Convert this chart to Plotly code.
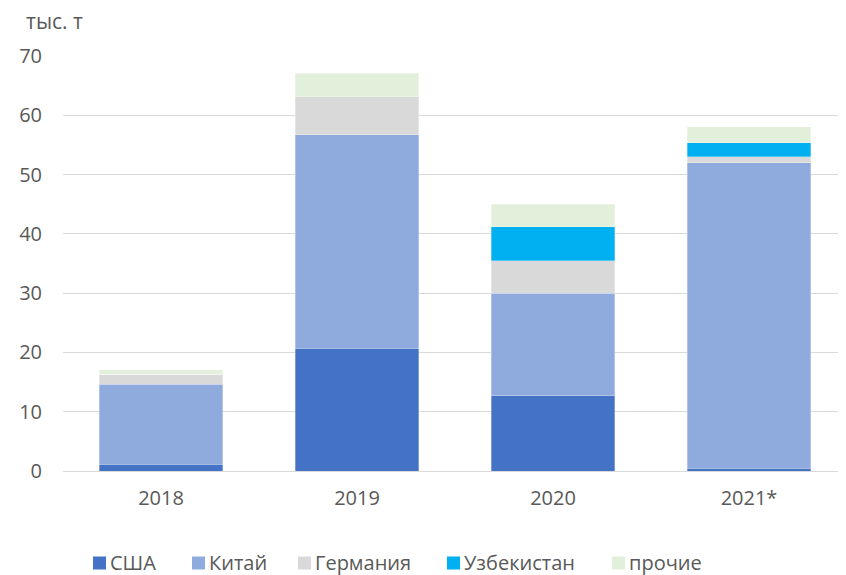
import plotly.graph_objects as go

# Категории и значения (тыс. т), сегменты стека
years = ["2018", "2019", "2020", "2021*"]
usa = [1.1, 20.7, 12.7, 0.5]
china = [13.5, 36.0, 17.3, 51.5]
germany = [1.75, 6.4, 5.5, 1.0]
uzbekistan = [0.0, 0.0, 5.7, 2.4]
other = [0.75, 4.0, 3.8, 2.7]

names = ["США", "Китай", "Германия", "Узбекистан", "прочие"]
colors = ["#4472C4", "#8FAADC", "#D9D9D9", "#00B0F0", "#E2EFDA"]
values = [usa, china, germany, uzbekistan, other]

FONT = "Open Sans"
GREY = "#595959"
W, H = 846, 575
OFF = 8  # default body margin of the html page
ML, MR, MT, MB = 63 - OFF, 7, 56 - OFF, 112
PW, PH = W - ML - MR, H - MT - MB


def px_x(px):
    return (px - OFF - ML) / PW


def px_y(py):
    return (H - MB - (py - OFF)) / PH


fig = go.Figure()
for name, vals, color in zip(names, values, colors):
    fig.add_trace(go.Bar(
        x=years, y=vals, name=name,
        marker=dict(color=color, line=dict(color="rgba(255,255,255,0.6)", width=0.5)),
    ))

# legend drawn by hand so the swatch/text spacing matches the original
legend_sq = [93, 192, 298, 447, 612]
shapes, annotations = [], []
for name, color, sx in zip(names, colors, legend_sq):
    shapes.append(dict(
        type="rect", xref="paper", yref="paper",
        x0=px_x(sx), x1=px_x(sx + 13), y0=px_y(569.5), y1=px_y(556.5),
        fillcolor=color, line=dict(width=0),
    ))
    annotations.append(dict(
        text=name, xref="paper", yref="paper", x=px_x(sx + 15), y=px_y(562),
        xanchor="left", yanchor="middle", showarrow=False,
        font=dict(size=20, color=GREY),
    ))

annotations.append(dict(
    text="тыс. т", xref="paper", yref="paper", x=px_x(24), y=px_y(21),
    xanchor="left", yanchor="middle", showarrow=False,
    font=dict(size=21, color=GREY),
))

fig.update_layout(
    barmode="stack",
    bargap=0.37,
    width=W, height=H,
    plot_bgcolor="white", paper_bgcolor="white",
    font=dict(family=FONT, size=20, color=GREY),
    margin=dict(l=ML, r=MR, t=MT, b=MB, autoexpand=False),
    showlegend=False,
    xaxis=dict(showgrid=False, ticks="", showline=False, automargin=False,
               ticklabelstandoff=13, tickfont=dict(size=20, color=GREY)),
    yaxis=dict(
        range=[0, 70], dtick=10, showgrid=True, gridcolor="#D9D9D9", gridwidth=1,
        zeroline=True, zerolinecolor="#D9D9D9", zerolinewidth=1, automargin=False,
        ticks="", ticklabelstandoff=20, tickfont=dict(size=20, color=GREY),
    ),
    shapes=shapes,
    annotations=annotations,
)

fig.write_html("out.html")
